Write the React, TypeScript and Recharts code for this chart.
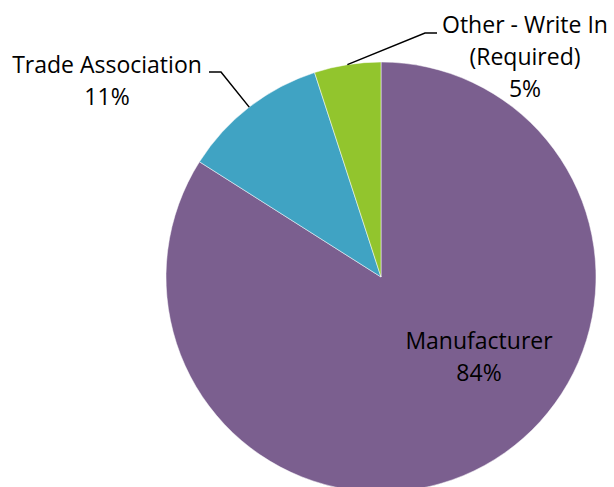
import React from "react";
import { PieChart, Pie, Cell } from "recharts";

const categories = ["Manufacturer", "Trade Association", "Other - Write In (Required)"];
const values = [84, 11, 5];
const labelLines = [["Manufacturer", "84%"], ["Trade Association", "11%"], ["Other - Write In", "(Required)", "5%"]];
const colors = ["#7B5F8F", "#40A3C3", "#92C52D"];

const data = categories.map((name, i) => ({ name, value: values[i] }));

// label layout (offsets from pie centre, px)
const layout = [
  { tx: 98, ty: 72, lead: null as null | { ex: number; hx: number; hy: number } },
  { tx: -274, ty: -204, lead: { ex: -160, hx: -172, hy: -205 } },
  { tx: 144, ty: -244, lead: { ex: 44, hx: 56, hy: -244 } },
];

const FONT = "'Open Sans', sans-serif";
const FS = 23;
const LH = 32;
const RAD = Math.PI / 180;

const renderLabel = (p: any) => {
  const { cx, cy, outerRadius, midAngle, index } = p;
  const L = layout[index];
  const lines = labelLines[index];
  const px = cx + Math.cos(-midAngle * RAD) * outerRadius;
  const py = cy + Math.sin(-midAngle * RAD) * outerRadius;
  return (
    <g key={"lab" + index}>
      {L.lead && (
        <polyline
          points={`${px},${py} ${cx + L.lead.ex},${cy + L.lead.hy} ${cx + L.lead.hx},${cy + L.lead.hy}`}
          fill="none"
          stroke="#000"
          strokeWidth={1.5}
        />
      )}
      <text x={cx + L.tx} y={cy + L.ty} textAnchor="middle" fontFamily={FONT} fontSize={FS} fill="#000">
        {lines.map((t, j) => (
          <tspan key={j} x={cx + L.tx} y={cy + L.ty + j * LH}>
            {t}
          </tspan>
        ))}
      </text>
    </g>
  );
};

export default function App() {
  return (
    <div style={{ position: "absolute", left: 0, top: 0, width: 614, height: 487, background: "#fff" }}>
      <PieChart width={614} height={487} margin={{ top: 0, right: 0, bottom: 0, left: 0 }}>
        <Pie
          data={data}
          dataKey="value"
          nameKey="name"
          cx={381}
          cy={277}
          outerRadius={215}
          startAngle={90}
          endAngle={-270}
          stroke="#fff"
          strokeWidth={0.5}
          label={renderLabel}
          labelLine={false}
          isAnimationActive={false}
        >
          {data.map((d, i) => (
            <Cell key={d.name} fill={colors[i]} />
          ))}
        </Pie>
      </PieChart>
    </div>
  );
}
